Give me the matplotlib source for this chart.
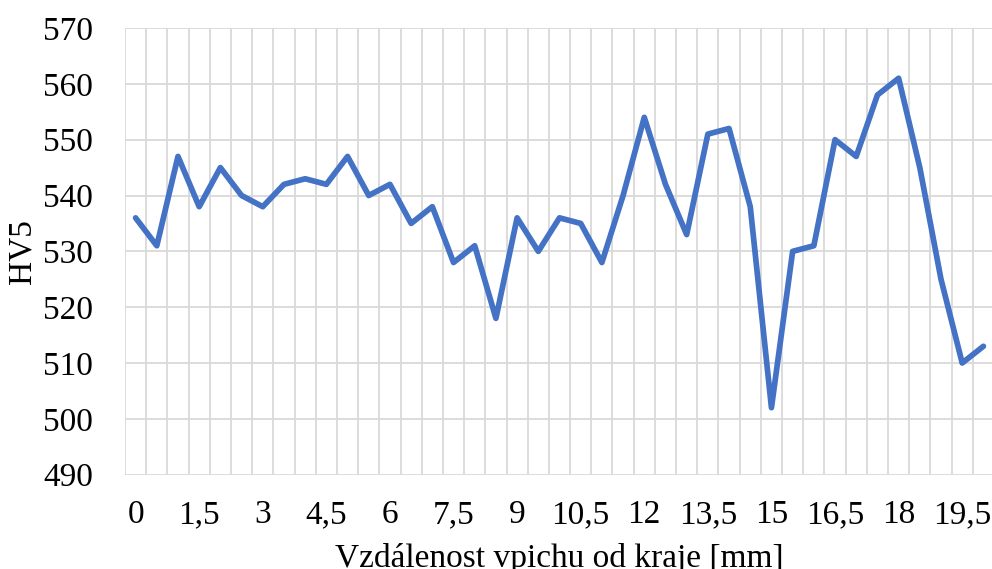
import matplotlib
matplotlib.use("Agg")
import matplotlib.pyplot as plt
import numpy as np

positions_mm = [0, 0.5, 1, 1.5, 2, 2.5, 3, 3.5, 4, 4.5, 5, 5.5, 6, 6.5, 7, 7.5, 8, 8.5, 9, 9.5,
                10, 10.5, 11, 11.5, 12, 12.5, 13, 13.5, 14, 14.5, 15, 15.5, 16, 16.5, 17, 17.5,
                18, 18.5, 19, 19.5, 20]
hv5 = [536, 531, 547, 538, 545, 540, 538, 542, 543, 542, 547, 540, 542, 535, 538, 528, 531, 518,
       536, 530, 536, 535, 528, 540, 554, 542, 533, 551, 552, 538, 502, 530, 531, 550, 547, 558,
       561, 545, 525, 510, 513]
y_ticks = [490, 500, 510, 520, 530, 540, 550, 560, 570]

def fmt(v):
    s = f"{v:g}"
    return s.replace(".", ",")

plt.rcParams['font.family'] = ['Liberation Serif', 'DejaVu Serif']

W, H = 992, 569
fig = plt.figure(figsize=(W / 100, H / 100), dpi=100)
left, right, top, bottom = 125, 994, 28, 474.7
ax = fig.add_axes([left / W, 1 - bottom / H, (right - left) / W, (bottom - top) / H])

idx = np.arange(len(positions_mm))
ax.plot(idx, hv5, color='#4472C4', lw=4.1, solid_joinstyle='round', solid_capstyle='round',
        zorder=3, clip_on=False)

ax.set_xlim(-0.5, len(positions_mm) - 0.5)
ax.set_ylim(490, 570)
ax.set_yticks(y_ticks)
ax.set_yticklabels([str(v) for v in y_ticks])

# gridlines at category boundaries
ax.set_xticks(np.arange(len(positions_mm) + 1) - 0.5, minor=True)
ax.set_xticks(idx[::3])
ax.set_xticklabels([fmt(positions_mm[i]) for i in idx[::3]])
ax.grid(True, which='minor', axis='x', color='#D9D9D9', lw=1.3)
ax.grid(True, which='major', axis='y', color='#D9D9D9', lw=1.3)
ax.set_axisbelow(True)
for s in ax.spines.values():
    s.set_visible(False)
ax.tick_params(which='both', length=0)
ax.tick_params(axis='x', labelsize=24, pad=18)
ax.tick_params(axis='y', labelsize=24, pad=23)

ax.set_ylabel('HV5', fontsize=24, labelpad=4)
ax.set_xlabel('Vzdálenost vpichu od kraje [mm]', fontsize=24, labelpad=9)

fig.savefig('out.png', dpi=100)
